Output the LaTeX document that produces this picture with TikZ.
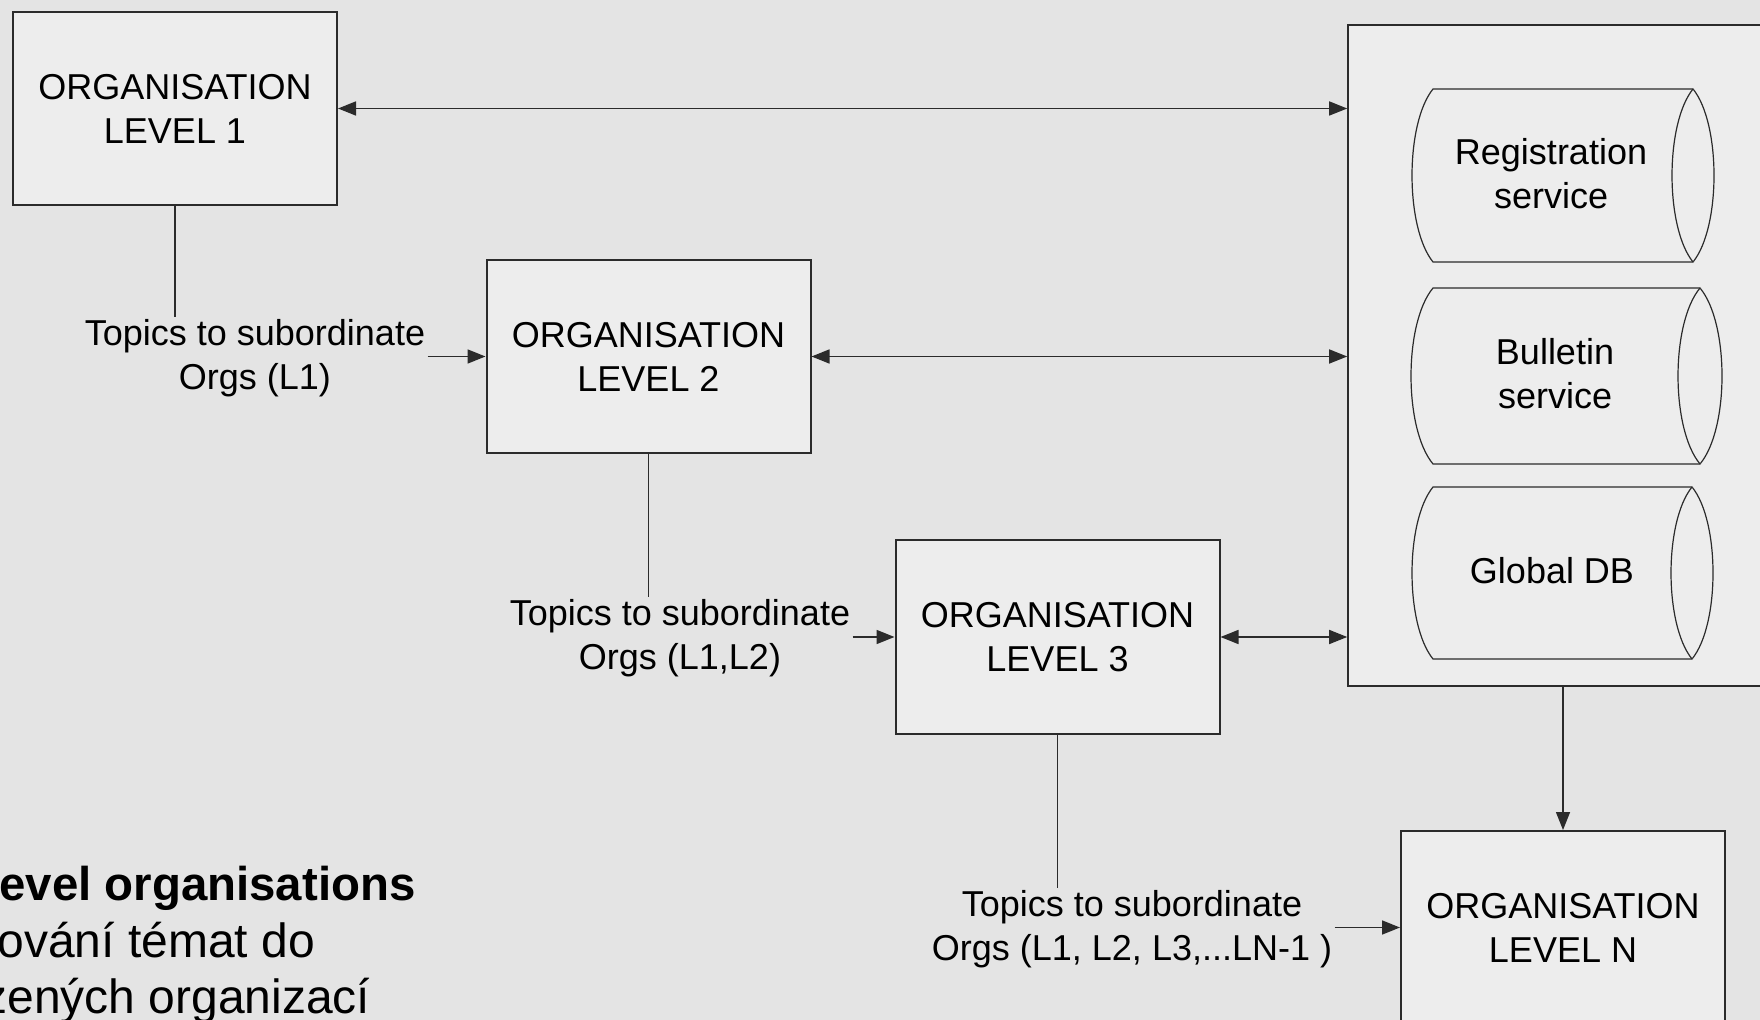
\documentclass[tikz,border=0pt]{standalone}
\usepackage{fontspec}
\setmainfont{Liberation Sans}
\usetikzlibrary{arrows.meta,calc}
\definecolor{bgc}{HTML}{E4E4E4}
\definecolor{boxc}{HTML}{EDEDED}
\definecolor{linec}{HTML}{2B2B2B}
\newcommand\drawcyl[5]{% xl, xr, yt, yb, rx
  \pgfmathsetmacro\cylA{#1-1.333*#5}%
  \pgfmathsetmacro\cylB{#2+1.333*#5}%
  \pgfmathsetmacro\cylC{#2-1.333*#5}%
  \pgfmathsetmacro\cylYa{#3+0.2*(#4-#3)}%
  \pgfmathsetmacro\cylYb{#4-0.2*(#4-#3)}%
  \draw[cyl] (#1,#3) -- (#2,#3) .. controls (\cylB,\cylYa) and (\cylB,\cylYb) .. (#2,#4) -- (#1,#4) .. controls (\cylA,\cylYb) and (\cylA,\cylYa) .. (#1,#3) -- cycle;
  \draw[cyl] (#2,#3) .. controls (\cylC,\cylYa) and (\cylC,\cylYb) .. (#2,#4);
}
\begin{document}
\begin{tikzpicture}[x=0.5pt,y=-0.5pt,
  orgbox/.style={draw=linec, line width=1pt, fill=boxc, minimum width=162pt, minimum height=96.5pt, align=center, inner sep=0pt, font=\fontsize{18}{22}\selectfont},
  lbl/.style={align=center, inner sep=1pt, font=\fontsize{18}{22}\selectfont},
  conn/.style={draw=linec, line width=0.8pt},
  arr/.style={conn, -{Triangle[length=9pt,width=7pt]}},
  dbl/.style={conn, {Triangle[length=9pt,width=7pt]}-{Triangle[length=9pt,width=7pt]}},
  cyl/.style={draw=linec, line width=0.6pt, fill=boxc},
  svc/.style={align=center, inner sep=0pt, font=\fontsize{18}{22}\selectfont},
  note/.style={anchor=base west, inner sep=0pt, font=\fontsize{24}{28}\selectfont}
]
\fill[bgc] (0,0) rectangle (1760,1020);
\useasboundingbox (0,0) rectangle (1760,1020);
\clip (0,0) rectangle (1760,1020);

% right container
\node[orgbox, line width=0.8pt, minimum width=226pt, minimum height=330.5pt] (R) at (1574,355.5) {};
\drawcyl{1433}{1693}{89}{262}{21}
\drawcyl{1433}{1700}{288}{464}{22}
\drawcyl{1433}{1692}{487}{659}{21}
\node[svc] (reg) at (1551,174) {Registration\\service};
\node[svc] (bul) at (1555,374) {Bulletin\\service};
\node[svc] (gdb) at (1552,571) {Global DB};

% organisation boxes
\node[orgbox] (L1) at (175,108.5) {ORGANISATION\\LEVEL 1};
\node[orgbox] (L2) at (648.5,356.5) {ORGANISATION\\LEVEL 2};
\node[orgbox] (L3) at (1057.5,637) {ORGANISATION\\LEVEL 3};
\node[orgbox] (LN) at (1563,927.5) {ORGANISATION\\LEVEL N};

% labels
\node[lbl] (lab1) at (255,358.5) {Topics to subordinate\\Orgs (L1)};
\node[lbl] (lab2) at (680,638) {Topics to subordinate\\Orgs (L1,L2)};
\node[lbl] (lab3) at (1132,929.5) {Topics to subordinate\\Orgs (L1, L2, L3,...LN-1 )};

% connectors
\draw[dbl] (L1.east) -- (L1.east -| R.west);
\draw[dbl] (L2.east) -- (L2.east -| R.west);
\draw[dbl] (L3.east) -- (L3.east -| R.west);
\draw[arr] (R.south -| LN.north) -- (LN.north);

\draw[conn] (L1.south) -- (L1.south |- lab1.north);
\draw[conn] (L2.south) -- (L2.south |- lab2.north);
\draw[conn] (L3.south) -- (L3.south |- lab3.north);

\draw[arr] (lab1.east |- L2.west) -- (L2.west);
\draw[arr] (lab2.east |- L3.west) -- (L3.west);
\draw[arr] (lab3.east |- LN.west) -- (LN.west);

% cropped note text
\node[note, font=\fontsize{23.7}{28}\selectfont\bfseries] (n1) at (-1,900) {evel organisations};
\node[note] (n2) at (-3,957) {ování témat do};
\node[note] (n3) at (-17,1013) {zených organizací};
\end{tikzpicture}
\end{document}
